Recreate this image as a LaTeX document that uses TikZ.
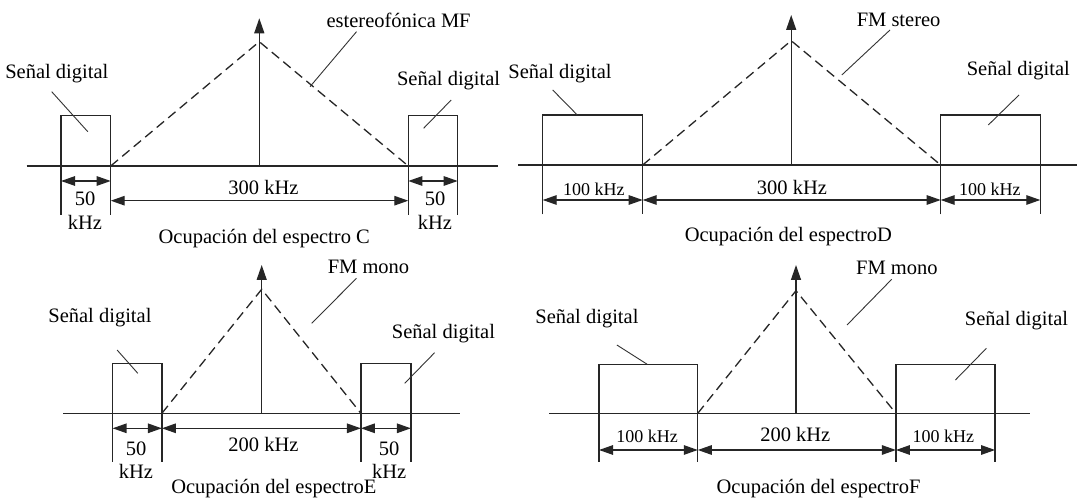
\documentclass[tikz,border=0pt]{standalone}
\usepackage{fontspec}
\setmainfont{Liberation Serif}
\usetikzlibrary{arrows.meta}
\begin{document}
\begin{tikzpicture}[x=1pt,y=-1pt,
  ln/.style={line width=1.3pt, draw=black!85},
  dsh/.style={ln, dash pattern=on 9.5pt off 5.5pt},
  dim/.style={ln, {Triangle[length=14pt,width=9.5pt]}-{Triangle[length=14pt,width=9.5pt]}},
  up/.style={ln, -{Triangle[length=15pt,width=10pt]}},
  lead/.style={line width=0.9pt, draw=black!80},
  lbl/.style={font=\fontsize{20.5}{22}\selectfont, inner sep=0pt, anchor=base},
  sml/.style={font=\fontsize{18}{20}\selectfont, inner sep=0pt, anchor=base}]
\useasboundingbox[fill=white] (0,0) rectangle (1077,502);

% ================= Panel C =================
\coordinate (Ca0) at (26.7,166); \coordinate (Ca1) at (498.3,166);
\draw[ln] (Ca0) -- (Ca1);
\draw[ln] (61,215) -- (61,115.7) -- (110.7,115.7) -- (110.7,215);
\draw[ln] (408.3,215) -- (408.3,115.7) -- (457.7,115.7) -- (457.7,215);
\coordinate (Cbase) at (259.3,166); \coordinate (Ctip) at (259.3,18.3);
\draw[up] (Cbase) -- (Ctip);
\coordinate (CdL) at (110.7,166); \coordinate (Cpk) at (259.3,41.7); \coordinate (CdR) at (408.3,166);
\draw[dsh] (CdL) -- (Cpk) -- (CdR);
\coordinate (Cs1a) at (61,181); \coordinate (Cs1b) at (110.7,181);
\coordinate (Cs2a) at (408.3,181); \coordinate (Cs2b) at (457.7,181);
\coordinate (CLa) at (110.7,200.7); \coordinate (CLb) at (408.3,200.7);
\draw[dim] (Cs1a) -- (Cs1b);
\draw[dim] (Cs2a) -- (Cs2b);
\draw[dim] (CLa) -- (CLb);
\node[lbl] (Cn1) at (85,205.8) {50};
\node[lbl] (Ck1) at (85,229.8) {kHz};
\node[lbl] (Cn2) at (435,205.8) {50};
\node[lbl] (Ck2) at (435,229.8) {kHz};
\node[lbl] (C300) at (263.5,194.8) {300 kHz};
\node[lbl] (Ccap) at (264.2,243.2) {Ocupación del espectro C};
\node[lbl] (CsdL) at (56.8,78.2) {Señal digital};
\node[lbl] (CsdR) at (448.6,85.8) {Señal digital};
\node[lbl] (Cfm) at (398.6,27.2) {estereofónica MF};
\coordinate (CqL1) at (51.7,91.7); \coordinate (CqL2) at (87.8,131.7);
\coordinate (CqR1) at (451.2,100); \coordinate (CqR2) at (423.6,128.3);
\coordinate (CqF1) at (356.5,31.7); \coordinate (CqF2) at (310,86.7);
\draw[lead] (CqL1) -- (CqL2);
\draw[lead] (CqR1) -- (CqR2);
\draw[lead] (CqF1) -- (CqF2);

% ================= Panel D =================
\coordinate (Da0) at (518.3,165); \coordinate (Da1) at (1077,165);
\draw[ln] (Da0) -- (Da1);
\draw[ln] (542.7,214.3) -- (542.7,115) -- (642.7,115) -- (642.7,214.3);
\draw[ln] (940.7,214.3) -- (940.7,115) -- (1040.3,115) -- (1040.3,214.3);
\coordinate (Dbase) at (791.2,165); \coordinate (Dtip) at (791.2,15);
\draw[up] (Dbase) -- (Dtip);
\coordinate (DdL) at (642.7,165); \coordinate (Dpk) at (791.2,40.7); \coordinate (DdR) at (940.7,165);
\draw[dsh] (DdL) -- (Dpk) -- (DdR);
\coordinate (Dd1) at (542.7,200); \coordinate (Dd2) at (642.7,200);
\coordinate (Dd3) at (940.7,200); \coordinate (Dd4) at (1040.3,200);
\draw[dim] (Dd1) -- (Dd2);
\draw[dim] (Dd2) -- (Dd3);
\draw[dim] (Dd3) -- (Dd4);
\node[sml] (D100a) at (593.8,195.8) {100 kHz};
\node[lbl] (D300) at (791.9,194.8) {300 kHz};
\node[sml] (D100b) at (989.9,195.8) {100 kHz};
\node[lbl] (Dcap) at (788.4,241.8) {Ocupación del espectroD};
\node[lbl] (DsdL) at (560,78.2) {Señal digital};
\node[lbl] (DsdR) at (1018.3,75.8) {Señal digital};
\node[lbl] (Dfm) at (898.6,26.5) {FM stereo};
\coordinate (DqL1) at (552.7,90); \coordinate (DqL2) at (577.3,115);
\coordinate (DqR1) at (1019,95); \coordinate (DqR2) at (988.3,125);
\coordinate (DqF1) at (890,30); \coordinate (DqF2) at (841.8,75);
\draw[lead] (DqL1) -- (DqL2);
\draw[lead] (DqR1) -- (DqR2);
\draw[lead] (DqF1) -- (DqF2);

% ================= Panel E =================
\coordinate (Ea0) at (63,413.3); \coordinate (Ea1) at (459.8,413.3);
\draw[ln] (Ea0) -- (Ea1);
\draw[ln] (112.6,461.7) -- (112.6,363.3) -- (161.9,363.3) -- (161.9,461.7);
\draw[ln] (360.9,461.7) -- (360.9,363.3) -- (410.9,363.3) -- (410.9,461.7);
\coordinate (Ebase) at (261.7,413.3); \coordinate (Etip) at (261.7,265);
\draw[up] (Ebase) -- (Etip);
\coordinate (EdL) at (161.9,413.3); \coordinate (Epk) at (261.7,289.3); \coordinate (EdR) at (360.9,413.3);
\draw[dsh] (EdL) -- (Epk) -- (EdR);
\coordinate (Ed1) at (112.6,428.3); \coordinate (Ed2) at (161.9,428.3);
\coordinate (Ed3) at (360.9,428.3); \coordinate (Ed4) at (410.9,428.3);
\draw[dim] (Ed1) -- (Ed2);
\draw[dim] (Ed2) -- (Ed3);
\draw[dim] (Ed3) -- (Ed4);
\node[lbl] (En1) at (136,455.8) {50};
\node[lbl] (Ek1) at (136,478.2) {kHz};
\node[lbl] (En2) at (389.2,455.8) {50};
\node[lbl] (Ek2) at (389.2,478.2) {kHz};
\node[lbl] (E200) at (263.5,451.5) {200 kHz};
\node[lbl] (Ecap) at (273.8,493.8) {Ocupación del espectroE};
\node[lbl] (EsdL) at (99.9,322.2) {Señal digital};
\node[lbl] (EsdR) at (443.4,338.2) {Señal digital};
\node[lbl] (Efm) at (368.5,273.8) {FM mono};
\coordinate (EqL1) at (117.1,350); \coordinate (EqL2) at (137.8,373.3);
\coordinate (EqR1) at (434.6,352.7); \coordinate (EqR2) at (404.7,383.3);
\coordinate (EqF1) at (356.5,278.3); \coordinate (EqF2) at (311.7,323.3);
\draw[lead] (EqL1) -- (EqL2);
\draw[lead] (EqR1) -- (EqR2);
\draw[lead] (EqF1) -- (EqF2);

% ================= Panel F =================
\coordinate (Fa0) at (549,413.3); \coordinate (Fa1) at (1030.2,413.3);
\draw[ln] (Fa0) -- (Fa1);
\draw[ln] (599,461.7) -- (599,364.3) -- (697.8,364.3) -- (697.8,461.7);
\draw[ln] (895.9,461.7) -- (895.9,364.3) -- (995.1,364.3) -- (995.1,461.7);
\coordinate (Fbase) at (796,413.3); \coordinate (Ftip) at (796,265);
\draw[up] (Fbase) -- (Ftip);
\coordinate (FdL) at (697.8,413.3); \coordinate (Fpk) at (796,290.7); \coordinate (FdR) at (895.9,413.3);
\draw[dsh] (FdL) -- (Fpk) -- (FdR);
\coordinate (Fd1) at (599,450); \coordinate (Fd2) at (697.8,450);
\coordinate (Fd3) at (895.9,450); \coordinate (Fd4) at (995.1,450);
\draw[dim] (Fd1) -- (Fd2);
\draw[dim] (Fd2) -- (Fd3);
\draw[dim] (Fd3) -- (Fd4);
\node[sml] (F100a) at (647.2,442.5) {100 kHz};
\node[lbl] (F200) at (795.3,441.5) {200 kHz};
\node[sml] (F100b) at (943.4,442.5) {100 kHz};
\node[lbl] (Fcap) at (818.5,493.2) {Ocupación del espectroF};
\node[lbl] (FsdL) at (586.9,323.2) {Señal digital};
\node[lbl] (FsdR) at (1016.5,325.8) {Señal digital};
\node[lbl] (Ffm) at (896.9,274.8) {FM mono};
\coordinate (FqL1) at (616.9,345); \coordinate (FqL2) at (647.2,364.3);
\coordinate (FqR1) at (986.4,348.3); \coordinate (FqR2) at (955.4,380);
\coordinate (FqF1) at (891.7,279.3); \coordinate (FqF2) at (847,325);
\draw[lead] (FqL1) -- (FqL2);
\draw[lead] (FqR1) -- (FqR2);
\draw[lead] (FqF1) -- (FqF2);
\end{tikzpicture}
\end{document}
